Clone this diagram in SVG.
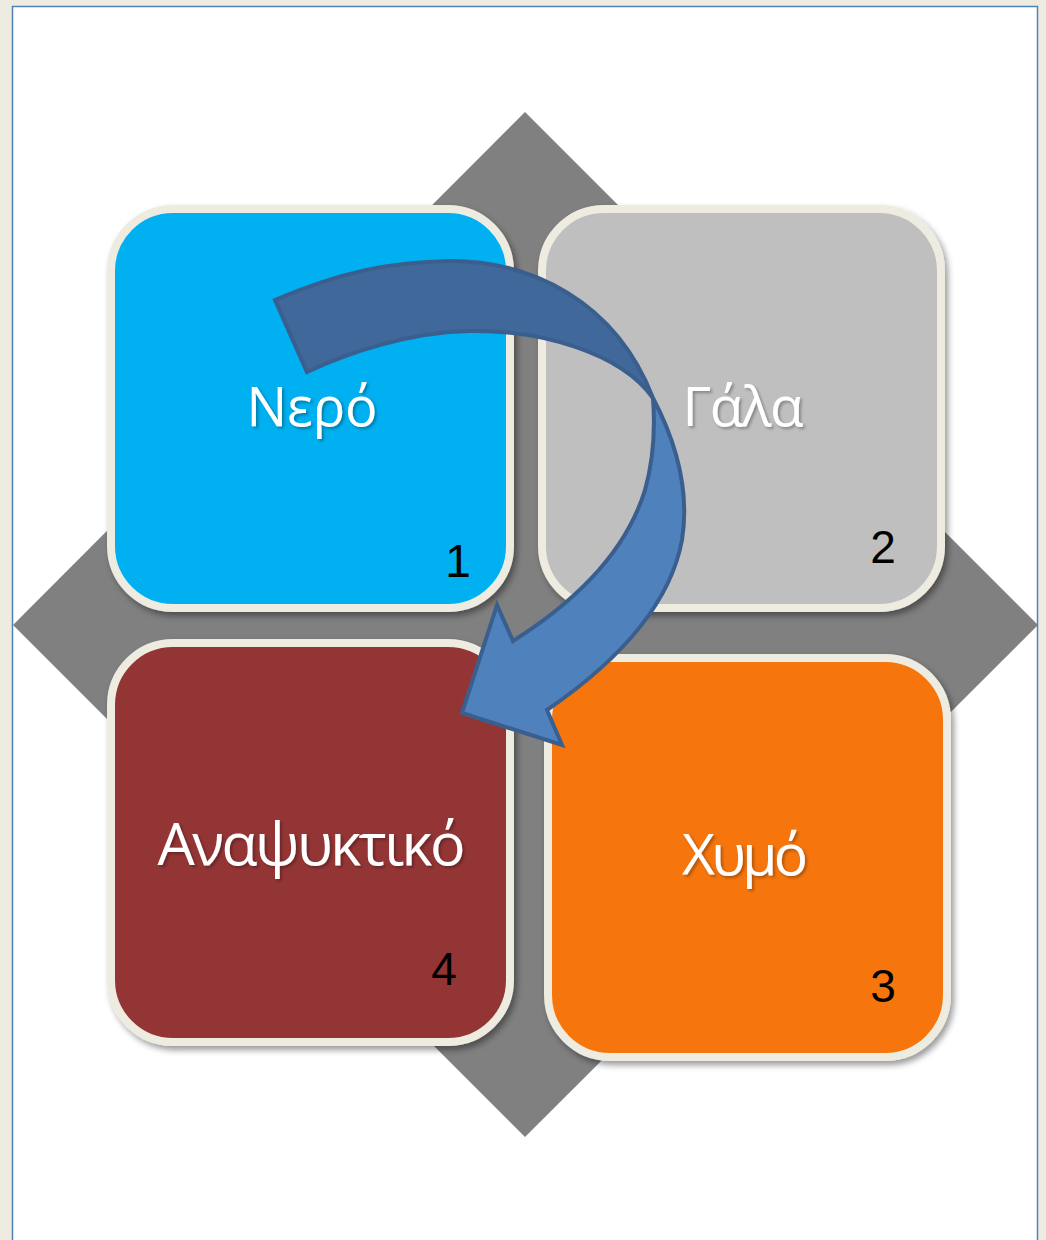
<svg xmlns="http://www.w3.org/2000/svg" width="1046" height="1240" viewBox="0 0 1046 1240">
  <defs>
    <filter id="boxShadow" x="-10%" y="-10%" width="125%" height="125%">
      <feDropShadow dx="3" dy="4" stdDeviation="3" flood-color="#000" flood-opacity="0.4"/>
    </filter>
    <filter id="textShadow" x="-10%" y="-20%" width="130%" height="150%">
      <feDropShadow dx="2" dy="2" stdDeviation="1.5" flood-color="#000" flood-opacity="0.3"/>
    </filter>
  </defs>
  <style>
    .box { stroke: #EEECE1; stroke-width: 8; }
    .label { font-family: "Open Sans", "Noto Sans", "DejaVu Sans", sans-serif; fill: #FFFFFF; text-anchor: middle; }
    .num { font-family: "Liberation Sans", Arial, sans-serif; font-size: 46px; fill: #000000; text-anchor: middle; }
    .arrowLight { fill: #4F81BD; stroke: #3A5F8F; stroke-width: 4; stroke-linejoin: miter; }
    .arrowDark { fill: #41689A; stroke: #3A5F8F; stroke-width: 4; stroke-linejoin: miter; }
  </style>

  <!-- page background -->
  <rect x="0" y="0" width="1046" height="1240" fill="#EEECE1"/>
  <rect x="12.5" y="6.5" width="1025" height="1260" fill="#FFFFFF" stroke="#4F81BD" stroke-width="1.5"/>

  <!-- diamond background -->
  <polygon id="diamond" points="525,112 1038,625 525,1137 13,625" fill="#808080"/>

  <g id="node1" filter="url(#boxShadow)">
    <rect class="box" x="111" y="209" width="399" height="399" rx="62" fill="#00B0F0"/>
  </g>
  <g id="node2" filter="url(#boxShadow)">
    <rect class="box" x="542" y="209" width="399" height="399" rx="62" fill="#BFBFBF"/>
  </g>
  <g id="node4" filter="url(#boxShadow)">
    <rect class="box" x="111" y="643" width="399" height="399" rx="62" fill="#943634"/>
  </g>
  <g id="node3" filter="url(#boxShadow)">
    <rect class="box" x="548" y="658" width="399" height="399" rx="62" fill="#F6760A"/>
  </g>

  <g id="labels">
    <text class="label" x="312" y="426" font-size="54" textLength="131" lengthAdjust="spacing" filter="url(#textShadow)">Νερό</text>
    <text class="label" x="743" y="426" font-size="55" textLength="121" lengthAdjust="spacing" filter="url(#textShadow)">Γάλα</text>
    <text class="label" x="311.5" y="865" font-size="59" textLength="308" lengthAdjust="spacing" filter="url(#textShadow)">Αναψυκτικό</text>
    <text class="label" x="745" y="875" font-size="57" textLength="126" lengthAdjust="spacing" filter="url(#textShadow)">Χυμό</text>
    <text class="num" x="458" y="577">1</text>
    <text class="num" x="883" y="563">2</text>
    <text class="num" x="883" y="1002">3</text>
    <text class="num" x="444" y="985">4</text>
  </g>

  <g id="connectors">
    <path class="arrowLight" d="M 653,398 C 675,440 690,490 682,540 C 670,605 617,662 547,710 L 562,745 L 462,713 L 497,605 L 513,641 C 570,605 625,555 645,490 C 655,455 655,425 653,398 Z"/>
    <path class="arrowDark" d="M 275,300 C 340,272 390,262 450,261 C 530,261 615,300 653,398 C 620,352 540,330 470,331 C 410,332 350,352 307,372 Z"/>
  </g>
</svg>
